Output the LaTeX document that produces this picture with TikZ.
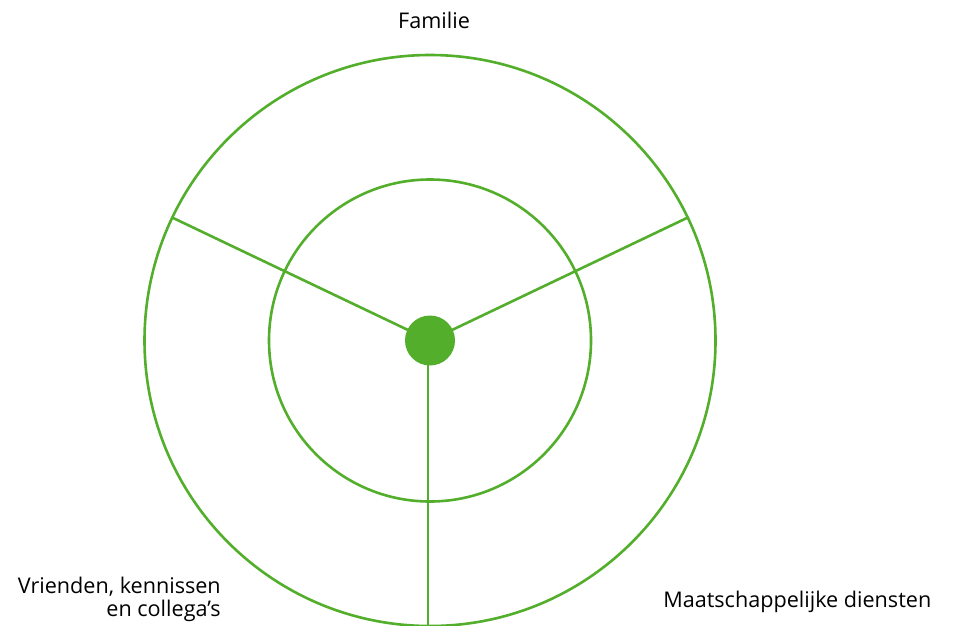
\documentclass[tikz,border=0pt]{standalone}
\usepackage{fontspec}
\setmainfont{Open Sans}
\usetikzlibrary{calc}
\definecolor{ringgreen}{HTML}{52AE2B}
\begin{document}
\begin{tikzpicture}[x=0.75pt,y=-0.75pt,
  ring/.style={draw=ringgreen,line width=1.95pt,circle,inner sep=0pt,minimum size=#1},
  spoke/.style={draw=ringgreen,line width=1.95pt},
  hub/.style={fill=ringgreen,circle,inner sep=0pt,minimum size=37.5pt},
  lbl/.style={inner sep=0pt,font=\fontsize{16.2}{19}\selectfont,text=black}]
\useasboundingbox (0,0) rectangle (955,625);
\coordinate (c) at (430,340.5);
\node[ring=428.25pt] (outer) at (c) {};
\node[ring=241.5pt] (inner) at (c) {};
\coordinate (ur) at ($(c)+(-25.5:285.5)$);
\coordinate (ul) at ($(c)+(-154.5:285.5)$);
\coordinate (bt) at (428,627);
\draw[spoke] (c) -- (ur);
\draw[spoke] (c) -- (ul);
\draw[spoke] (428,340.5) -- (bt);
\node[hub] (dot) at (c) {};
\node[lbl,anchor=base] (fam) at (434,28) {Familie};
\node[lbl,anchor=base east] (vr1) at (221,593) {Vrienden, kennissen};
\node[lbl,anchor=base east] (vr2) at (221,616) {en collega’s};
\node[lbl,anchor=base west] (maat) at (663,607) {Maatschappelijke diensten};
\end{tikzpicture}
\end{document}
